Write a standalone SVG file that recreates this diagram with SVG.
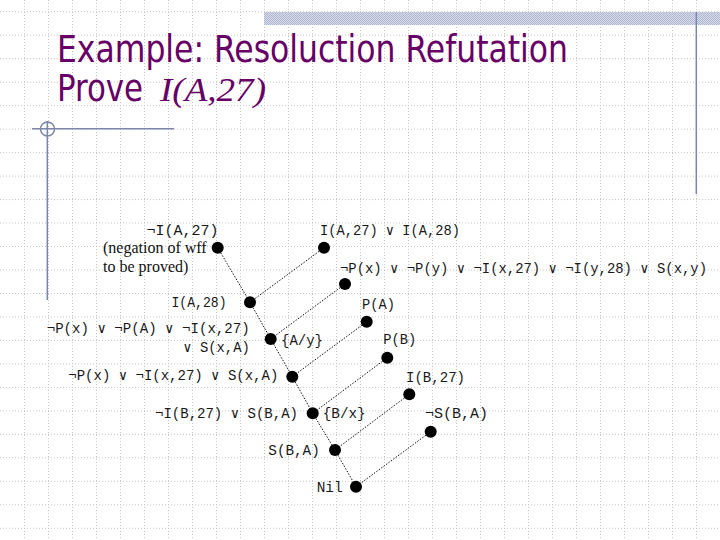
<svg xmlns="http://www.w3.org/2000/svg" width="720" height="540" viewBox="0 0 720 540">
<defs>
<style>
.grid{fill:none;stroke:#c4c4c4;stroke-width:1;stroke-dasharray:1 2}
.deco{fill:none;stroke:#7b86aa;stroke-width:1.5}
.title{font-family:"DejaVu Sans Condensed","DejaVu Sans",sans-serif;font-size:37px;fill:#660066}
.math{font-family:"Liberation Serif",serif;font-style:italic;font-size:34px;fill:#660066}
.mono{font-family:"Liberation Mono","DejaVu Sans Mono",monospace;font-size:14px;fill:#1a1a1a}
.serif{font-family:"Liberation Serif",serif;font-size:16px;fill:#111}
.edge{fill:none;stroke:#111;stroke-width:1;stroke-dasharray:1.5 1.5}
.dot{fill:#000}
</style>
<pattern id="hatch" width="2" height="2" patternUnits="userSpaceOnUse">
<rect width="2" height="2" fill="#d8dcea"/>
<rect width="1" height="1" fill="#aeb6d0"/>
<rect x="1" y="1" width="1" height="1" fill="#aeb6d0"/>
</pattern>
</defs>
<rect width="720" height="540" fill="#fff"/>
<g id="grid">
<path class="grid" d="M24.5 0V540M48.5 0V540M72.5 0V540M96.5 0V540M120.5 0V540M144.5 0V540M168.5 0V540M192.5 0V540M216.5 0V540M240.5 0V540M264.5 0V540M288.5 0V540M312.5 0V540M336.5 0V540M360.5 0V540M384.5 0V540M408.5 0V540M432.5 0V540M456.5 0V540M480.5 0V540M504.5 0V540M528.5 0V540M552.5 0V540M576.5 0V540M600.5 0V540M624.5 0V540M648.5 0V540M672.5 0V540M696.5 0V540"/>
<path class="grid" d="M0 11.7H720M0 35.2H720M0 58.7H720M0 82.2H720M0 105.7H720M0 129.1H720M0 152.6H720M0 176.1H720M0 199.6H720M0 223H720M0 246.5H720M0 270H720M0 293.5H720M0 317H720M0 340.4H720M0 363.9H720M0 387.4H720M0 410.9H720M0 434.3H720M0 457.8H720M0 481.3H720M0 504.8H720M0 528.3H720"/>
</g>
<g id="decoration">
<rect x="264" y="12" width="456" height="13" fill="url(#hatch)"/>
<line class="deco" x1="696.3" y1="12" x2="696.3" y2="194"/>
<line class="deco" x1="32" y1="128.7" x2="174" y2="128.7"/>
<line class="deco" x1="47.3" y1="121" x2="47.3" y2="300"/>
<circle class="deco" cx="47.5" cy="129" r="7" stroke-width="1"/>
</g>
<g id="title">
<text class="title" x="57" y="62" textLength="511" lengthAdjust="spacingAndGlyphs">Example: Resoluction Refutation</text>
<text class="title" x="57" y="101" textLength="86" lengthAdjust="spacingAndGlyphs">Prove</text>
<text class="math" x="160" y="101" textLength="106" lengthAdjust="spacingAndGlyphs">I(A,27)</text>
</g>
<g id="connectors">
<line class="edge" x1="217.7" y1="247.7" x2="250" y2="302.3"/>
<line class="edge" x1="324" y1="247.7" x2="250" y2="302.3"/>
<line class="edge" x1="250" y1="302.3" x2="270.7" y2="339"/>
<line class="edge" x1="345" y1="284" x2="270.7" y2="339"/>
<line class="edge" x1="270.7" y1="339" x2="292.3" y2="376.7"/>
<line class="edge" x1="366.7" y1="321.7" x2="292.3" y2="376.7"/>
<line class="edge" x1="292.3" y1="376.7" x2="312.7" y2="413.3"/>
<line class="edge" x1="387.3" y1="357.7" x2="312.7" y2="413.3"/>
<line class="edge" x1="312.7" y1="413.3" x2="335" y2="450"/>
<line class="edge" x1="409.3" y1="394.3" x2="335" y2="450"/>
<line class="edge" x1="335" y1="450" x2="356" y2="486.7"/>
<line class="edge" x1="430.7" y1="431.7" x2="356" y2="486.7"/>
</g>
<g id="n-negI27">
<circle class="dot" cx="217.7" cy="247.7" r="6"/>
<text class="mono" x="146.5" y="235" textLength="72" lengthAdjust="spacingAndGlyphs">¬I(A,27)</text>
<text class="serif" x="103" y="252.5">(negation of wff</text>
<text class="serif" x="103" y="271.5">to be proved)</text>
</g>
<g id="n-I27orI28">
<circle class="dot" cx="324" cy="247.7" r="6"/>
<text class="mono" x="320" y="235" textLength="140" lengthAdjust="spacingAndGlyphs">I(A,27) ∨ I(A,28)</text>
</g>
<g id="n-axiom">
<circle class="dot" cx="345" cy="284" r="6"/>
<text class="mono" x="340" y="272.5" textLength="367" lengthAdjust="spacingAndGlyphs">¬P(x) ∨ ¬P(y) ∨ ¬I(x,27) ∨ ¬I(y,28) ∨ S(x,y)</text>
</g>
<g id="n-I28">
<circle class="dot" cx="250" cy="302.3" r="6"/>
<text class="mono" x="171.5" y="306.5" textLength="55" lengthAdjust="spacingAndGlyphs">I(A,28)</text>
</g>
<g id="n-PA">
<circle class="dot" cx="366.7" cy="321.7" r="6"/>
<text class="mono" x="362" y="308.5" textLength="33" lengthAdjust="spacingAndGlyphs">P(A)</text>
</g>
<g id="n-r1">
<circle class="dot" cx="270.7" cy="339" r="6"/>
<text class="mono" x="46.7" y="333.3" textLength="203" lengthAdjust="spacingAndGlyphs">¬P(x) ∨ ¬P(A) ∨ ¬I(x,27)</text>
<text class="mono" x="183.3" y="351.7" textLength="66.5" lengthAdjust="spacingAndGlyphs">∨ S(x,A)</text>
<text class="mono" x="281" y="345" textLength="42" lengthAdjust="spacingAndGlyphs">{A/y}</text>
</g>
<g id="n-PB">
<circle class="dot" cx="387.3" cy="357.7" r="6"/>
<text class="mono" x="383.3" y="344.3" textLength="33" lengthAdjust="spacingAndGlyphs">P(B)</text>
</g>
<g id="n-r2">
<circle class="dot" cx="292.3" cy="376.7" r="6"/>
<text class="mono" x="68.3" y="380" textLength="210" lengthAdjust="spacingAndGlyphs">¬P(x) ∨ ¬I(x,27) ∨ S(x,A)</text>
</g>
<g id="n-IB27">
<circle class="dot" cx="409.3" cy="394.3" r="6"/>
<text class="mono" x="406" y="381.7" textLength="59" lengthAdjust="spacingAndGlyphs">I(B,27)</text>
</g>
<g id="n-r3">
<circle class="dot" cx="312.7" cy="413.3" r="6"/>
<text class="mono" x="155" y="418.3" textLength="143" lengthAdjust="spacingAndGlyphs">¬I(B,27) ∨ S(B,A)</text>
<text class="mono" x="322.7" y="418" textLength="43" lengthAdjust="spacingAndGlyphs">{B/x}</text>
</g>
<g id="n-negSBA">
<circle class="dot" cx="430.7" cy="431.7" r="6"/>
<text class="mono" x="425" y="418.3" textLength="63" lengthAdjust="spacingAndGlyphs">¬S(B,A)</text>
</g>
<g id="n-SBA">
<circle class="dot" cx="335" cy="450" r="6"/>
<text class="mono" x="268.3" y="455" textLength="51.5" lengthAdjust="spacingAndGlyphs">S(B,A)</text>
</g>
<g id="n-nil">
<circle class="dot" cx="356" cy="486.7" r="6"/>
<text class="mono" x="316.7" y="491.7" textLength="26" lengthAdjust="spacingAndGlyphs">Nil</text>
</g>
</svg>
